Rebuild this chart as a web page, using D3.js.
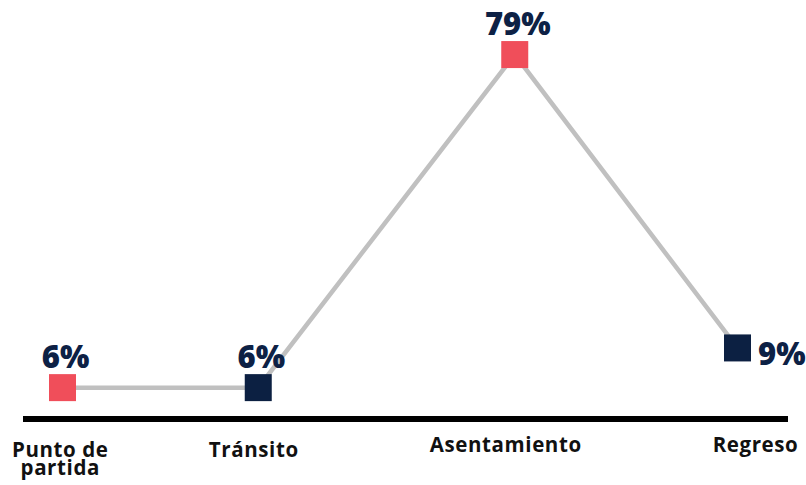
<!DOCTYPE html>
<html lang="es">
<head>
  <meta charset="UTF-8">
  <title>Etapas</title>
  <script src="https://d3js.org/d3.v7.min.js"></script>
  <style>
    body { margin: 0; background: #fff; }
    .value-label {
      font-family: "Open Sans", sans-serif;
      font-weight: 800;
      font-size: 31px;
      fill: #0d2145;
    }
    .cat-label {
      font-family: "Open Sans", sans-serif;
      font-weight: 700;
      font-size: 20.5px;
      letter-spacing: 0.6px;
      fill: #111;
    }
  </style>
</head>
<body>
<svg width="806" height="485"></svg>
<script>
  // data
  const stages = ["Punto de partida", "Tránsito", "Asentamiento", "Regreso"];
  const stageLines = [["Punto de", "partida"], ["Tránsito"], ["Asentamiento"], ["Regreso"]];
  const stageX = [0, 0.87, 2.01, 3];          // horizontal position of each stage
  const tickX = [-0.01, 0.85, 1.97, 3.08];     // where the stage names sit
  const plotted = [6, 6, 79, 14.7];           // height the marker is drawn at
  const valueLabels = ["6%", "6%", "79%", "9%"];
  const markerColors = ["#f04e5a", "#0c2042", "#f04e5a", "#0c2042"];

  const width = 806, height = 485;
  const svg = d3.select("svg");

  const x = d3.scaleLinear().domain([0, 3]).range([62.5, 737.5]);
  const y = d3.scaleLinear().domain([0, 80]).range([415, 50]);

  const pts = stages.map((s, i) => ({
    stage: s, x: stageX[i], v: plotted[i], label: valueLabels[i], color: markerColors[i]
  }));

  // baseline
  svg.append("line")
    .attr("x1", 23).attr("x2", 788)
    .attr("y1", 419).attr("y2", 419)
    .attr("stroke", "#000")
    .attr("stroke-width", 6);

  // connecting line
  const line = d3.line().x(d => x(d.x)).y(d => y(d.v));
  svg.append("path")
    .datum(pts)
    .attr("d", line)
    .attr("fill", "none")
    .attr("stroke", "#c0c0c0")
    .attr("stroke-width", 4.5);

  // markers
  const size = 27;
  svg.selectAll(".marker")
    .data(pts)
    .enter().append("rect")
    .attr("class", "marker")
    .attr("x", d => x(d.x) - size / 2)
    .attr("y", d => y(d.v) - size / 2)
    .attr("width", size)
    .attr("height", size)
    .attr("fill", d => d.color);

  // value labels: above the marker, except the last one which sits to the right
  svg.selectAll(".value-label")
    .data(pts)
    .enter().append("text")
    .attr("class", "value-label")
    .attr("x", (d, i) => i === pts.length - 1 ? x(d.x) + size / 2 + 7 : x(d.x) + 3)
    .attr("y", (d, i) => i === pts.length - 1 ? y(d.v) + 17 : y(d.v) - size / 2 - 6)
    .attr("text-anchor", (d, i) => i === pts.length - 1 ? "start" : "middle")
    .text(d => d.label);

  // stage names
  const cats = svg.selectAll(".cat-label")
    .data(stageLines)
    .enter().append("text")
    .attr("class", "cat-label")
    .attr("text-anchor", "middle")
    .attr("transform", (d, i) => `translate(${x(tickX[i])},${d.length > 1 || i === 1 ? 457 : 452})`);

  cats.selectAll("tspan")
    .data(d => d)
    .enter().append("tspan")
    .attr("x", 0)
    .attr("dy", (d, i) => i === 0 ? 0 : 17.5)
    .text(d => d);
</script>
</body>
</html>
